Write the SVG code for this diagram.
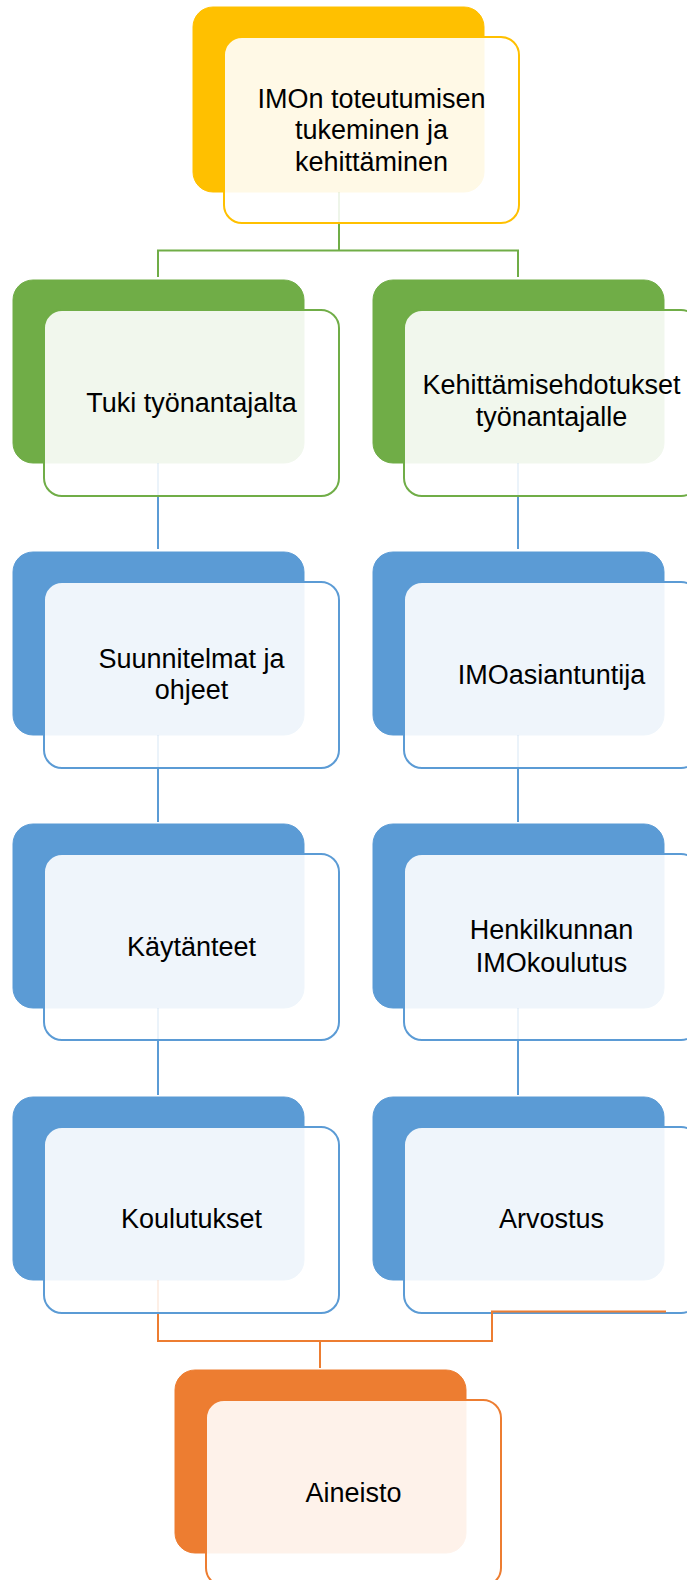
<svg xmlns="http://www.w3.org/2000/svg" width="687" height="1580" viewBox="0 0 687 1580">
<style>
.back{stroke:none}
.front{fill:#ffffff;fill-opacity:0.9;stroke-width:2}
.lbl{font-family:"Liberation Sans",Arial,sans-serif;font-size:27px;fill:#000;text-anchor:middle}
.c{fill:none;stroke-width:2}
.faint{stroke-opacity:0.12}
.y{fill:#FFC000;stroke:#FFC000}
.g{fill:#70AD47;stroke:#70AD47}
.b{fill:#5B9BD5;stroke:#5B9BD5}
.o{fill:#ED7D31;stroke:#ED7D31}
.sy{stroke:#FFC000}.sg{stroke:#70AD47}.sb{stroke:#5B9BD5}.so{stroke:#ED7D31}
</style>
<rect width="687" height="1580" fill="#ffffff"/>
<g id="node-top">
<rect class="back y" x="193" y="7" width="291" height="185" rx="20"/>
<rect class="front sy" x="224" y="37" width="295" height="186" rx="18"/>
<text class="lbl" x="371.5" y="107.5">IMOn toteutumisen</text>
<text class="lbl" x="371.5" y="139">tukeminen ja</text>
<text class="lbl" x="371.5" y="170.5">kehittäminen</text>
</g>
<g id="node-tuki">
<rect class="back g" x="13" y="280" width="291" height="183" rx="20"/>
<rect class="front sg" x="44" y="310" width="295" height="186" rx="18"/>
<text class="lbl" x="191.5" y="412">Tuki työnantajalta</text>
</g>
<g id="node-kehittamisehdotukset">
<rect class="back g" x="373" y="280" width="291" height="183" rx="20"/>
<rect class="front sg" x="404" y="310" width="295" height="186" rx="18"/>
<text class="lbl" x="551.5" y="394">Kehittämisehdotukset</text>
<text class="lbl" x="551.5" y="426">työnantajalle</text>
</g>
<g id="node-suunnitelmat">
<rect class="back b" x="13" y="552" width="291" height="183" rx="20"/>
<rect class="front sb" x="44" y="582" width="295" height="186" rx="18"/>
<text class="lbl" x="191.5" y="668">Suunnitelmat ja</text>
<text class="lbl" x="191.5" y="699">ohjeet</text>
</g>
<g id="node-imoasiantuntija">
<rect class="back b" x="373" y="552" width="291" height="183" rx="20"/>
<rect class="front sb" x="404" y="582" width="295" height="186" rx="18"/>
<text class="lbl" x="551.5" y="684">IMOasiantuntija</text>
</g>
<g id="node-kaytanteet">
<rect class="back b" x="13" y="824" width="291" height="184" rx="20"/>
<rect class="front sb" x="44" y="854" width="295" height="186" rx="18"/>
<text class="lbl" x="191.5" y="956">Käytänteet</text>
</g>
<g id="node-henkilkunnan">
<rect class="back b" x="373" y="824" width="291" height="184" rx="20"/>
<rect class="front sb" x="404" y="854" width="295" height="186" rx="18"/>
<text class="lbl" x="551.5" y="939">Henkilkunnan</text>
<text class="lbl" x="551.5" y="972">IMOkoulutus</text>
</g>
<g id="node-koulutukset">
<rect class="back b" x="13" y="1097" width="291" height="183" rx="20"/>
<rect class="front sb" x="44" y="1127" width="295" height="186" rx="18"/>
<text class="lbl" x="191.5" y="1228">Koulutukset</text>
</g>
<g id="node-arvostus">
<rect class="back b" x="373" y="1097" width="291" height="183" rx="20"/>
<rect class="front sb" x="404" y="1127" width="295" height="186" rx="18"/>
<text class="lbl" x="551.5" y="1228">Arvostus</text>
</g>
<g id="node-aineisto">
<rect class="back o" x="175" y="1370" width="291" height="183" rx="20"/>
<rect class="front so" x="206" y="1400" width="295" height="186" rx="18"/>
<text class="lbl" x="353.5" y="1502">Aineisto</text>
</g>
<g id="connectors">
<path class="c sg faint" d="M339 192V222"/>
<path class="c sg" d="M339 224V250.5M158 277V250.5H518V277"/>
<path class="c sb faint" d="M158 463V495M518 463V495M158 735V767M518 735V767M158 1008V1039M518 1008V1039"/>
<path class="c sb" d="M158 497V549M518 497V549M158 769V822M518 769V822M158 1041V1095M518 1041V1095"/>
<path class="c so faint" d="M158 1280V1312"/>
<path class="c so" d="M158 1314V1341H492V1311.5H666M320 1341V1368"/>
</g>
</svg>
